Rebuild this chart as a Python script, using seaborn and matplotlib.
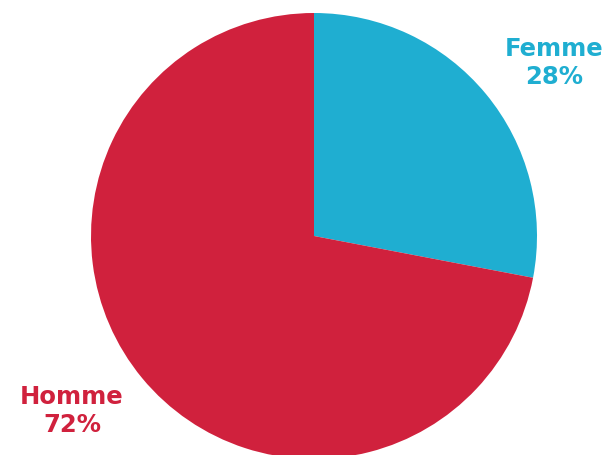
import matplotlib
matplotlib.use("Agg")
import matplotlib.pyplot as plt
import seaborn as sns

categories = ["Femme", "Homme"]
values = [28, 72]
colors = ["#1FAED1", "#D0213D"]

sns.set_theme(style="white")
plt.rcParams['font.family'] = ['DejaVu Sans']

fig = plt.figure(figsize=(6.10, 4.56), dpi=100)
ax = fig.add_axes([0, 0, 1, 1])

ax.pie(values, colors=colors, startangle=90, counterclock=False,
       center=(314, 219), radius=223, frame=True,
       wedgeprops=dict(linewidth=0))
ax.set_xlim(0, 610)
ax.set_ylim(0, 456)
ax.set_aspect('equal')
ax.axis('off')

label_pos = {"Femme": (554, 393), "Homme": (72, 45)}
for cat, val, col in zip(categories, values, colors):
    x, y = label_pos[cat]
    ax.text(x, y, f"{cat}\n{val}%", color=col, fontsize=17.5, fontweight='bold',
            ha='center', va='center', linespacing=1.2)

fig.savefig("out.png", dpi=100)
